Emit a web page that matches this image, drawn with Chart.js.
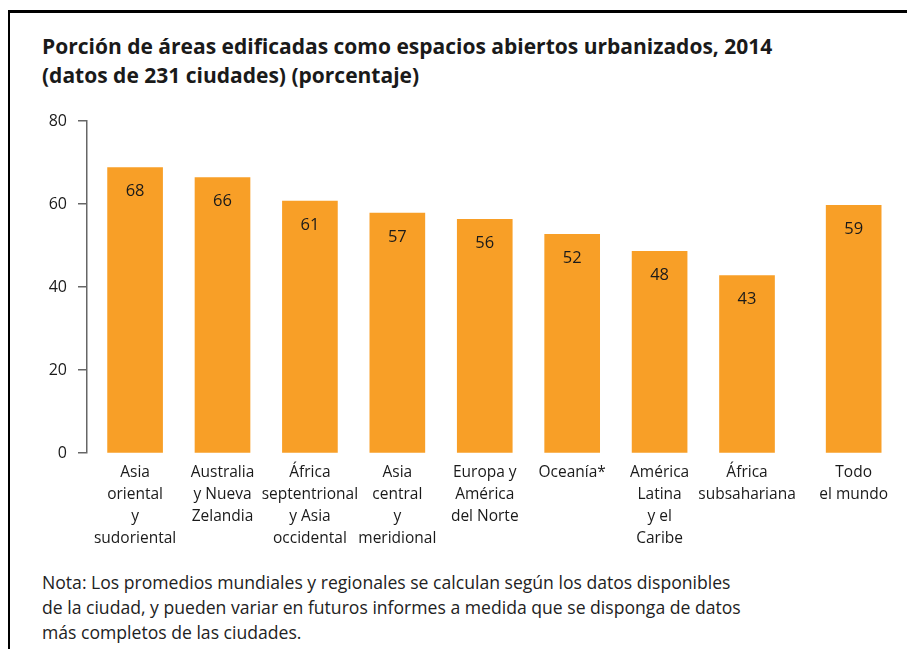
<!DOCTYPE html>
<html>
<head>
<meta charset="utf-8">
<script src="https://cdn.jsdelivr.net/npm/chart.js@4/dist/chart.umd.min.js"></script>
<style>
  body { margin: 0; background: #fff; }
  #page { position: relative; width: 907px; height: 649px; overflow: hidden; font-family: "Open Sans", sans-serif; color: #1a1a1a; }
  #frame { position: absolute; left: 8px; top: 10px; width: 1000px; height: 1000px; border-left: 2.5px solid #000; border-top: 3px solid #000; }
  #title { position: absolute; left: 42px; top: 32px; font-weight: bold; font-size: 21px; line-height: 29px; color: #1a1a1a; }
  #note { position: absolute; left: 42px; top: 570px; font-family: "Open Sans", sans-serif; font-size: 17.6px; line-height: 25px; color: #222; }
  #wrap { position: absolute; left: 0; top: 100px; width: 907px; height: 460px; }
</style>
</head>
<body>
<div id="page">
  <div id="frame"></div>
  <div id="title">Porción de áreas edificadas como espacios abiertos urbanizados, 2014<br>(datos de 231 ciudades) (porcentaje)</div>
  <div id="wrap"><canvas id="chart"></canvas></div>
  <div id="note">Nota: Los promedios mundiales y regionales se calculan según los datos disponibles<br>de la ciudad, y pueden variar en futuros informes a medida que se disponga de datos<br>más completos de las ciudades.</div>
</div>
<script>
// regions, as printed under the bars
const categories = [
  ['Asia', 'oriental', 'y', 'sudoriental'],
  ['Australia', 'y Nueva', 'Zelandia'],
  ['África', 'septentrional', 'y Asia', 'occidental'],
  ['Asia', 'central', 'y', 'meridional'],
  ['Europa y', 'América', 'del Norte'],
  ['Oceanía*'],
  ['América', 'Latina', 'y el', 'Caribe'],
  ['África', 'subsahariana'],
  ['Todo', 'el mundo'],
];
// bar heights as drawn, and the numbers printed on them
const barValues = [68.8, 66.4, 60.7, 57.8, 56.3, 52.7, 48.6, 42.8, 59.7];
const valueLabels = ['68', '66', '61', '57', '56', '52', '48', '43', '59'];
const yTicks = [0, 20, 40, 60, 80];

// world bar stands a little apart from the regions
const WORLD_GAP = 0.22;
const xPos = categories.map((_, i) => i + (i === categories.length - 1 ? WORLD_GAP : 0));

const ORANGE = '#F89F27';
const INK = '#1a1a1a';

const valueLabelPlugin = {
  id: 'valueLabels',
  afterDatasetsDraw(chart) {
    const ctx = chart.ctx;
    const meta = chart.getDatasetMeta(0);
    ctx.save();
    ctx.font = '16.5px "Open Sans", sans-serif';
    ctx.fillStyle = INK;
    ctx.textAlign = 'center';
    ctx.textBaseline = 'middle';
    meta.data.forEach((bar, i) => {
      ctx.fillText(valueLabels[i], bar.x, bar.y + 24);
    });
    ctx.restore();
  },
};

new Chart(document.getElementById('chart'), {
  type: 'bar',
  data: {
    datasets: [{
      data: barValues.map((v, i) => ({ x: xPos[i], y: v })),
      backgroundColor: ORANGE,
      barThickness: 55,
    }],
  },
  options: {
    responsive: true,
    maintainAspectRatio: false,
    animation: false,
    layout: { padding: { top: 21, right: 7, left: 0, bottom: 10 } },
    plugins: { legend: { display: false }, tooltip: { enabled: false } },
    scales: {
      x: {
        type: 'linear',
        offset: false,
        min: -0.55,
        max: 8.75,
        grid: { display: false, offset: false },
        border: { display: false },
        afterBuildTicks: s => { s.ticks = xPos.map(v => ({ value: v })); },
        ticks: {
          autoSkip: false,
          maxRotation: 0,
          padding: 1,
          color: INK,
          font: { family: '"Open Sans", sans-serif', size: 15.5, lineHeight: 1.4 },
          callback: (v, i) => categories[i],
        },
      },
      y: {
        min: 0,
        max: 80,
        afterBuildTicks: s => { s.ticks = yTicks.map(v => ({ value: v })); },
        afterFit: s => { s.width = 87; },
        grid: { drawOnChartArea: false, tickLength: 9, color: '#666', lineWidth: 1.5 },
        border: { color: '#666', width: 1.5 },
        ticks: {
          padding: 11,
          color: INK,
          font: { family: '"Open Sans", sans-serif', size: 16 },
        },
      },
    },
  },
  plugins: [valueLabelPlugin],
});
</script>
</body>
</html>
